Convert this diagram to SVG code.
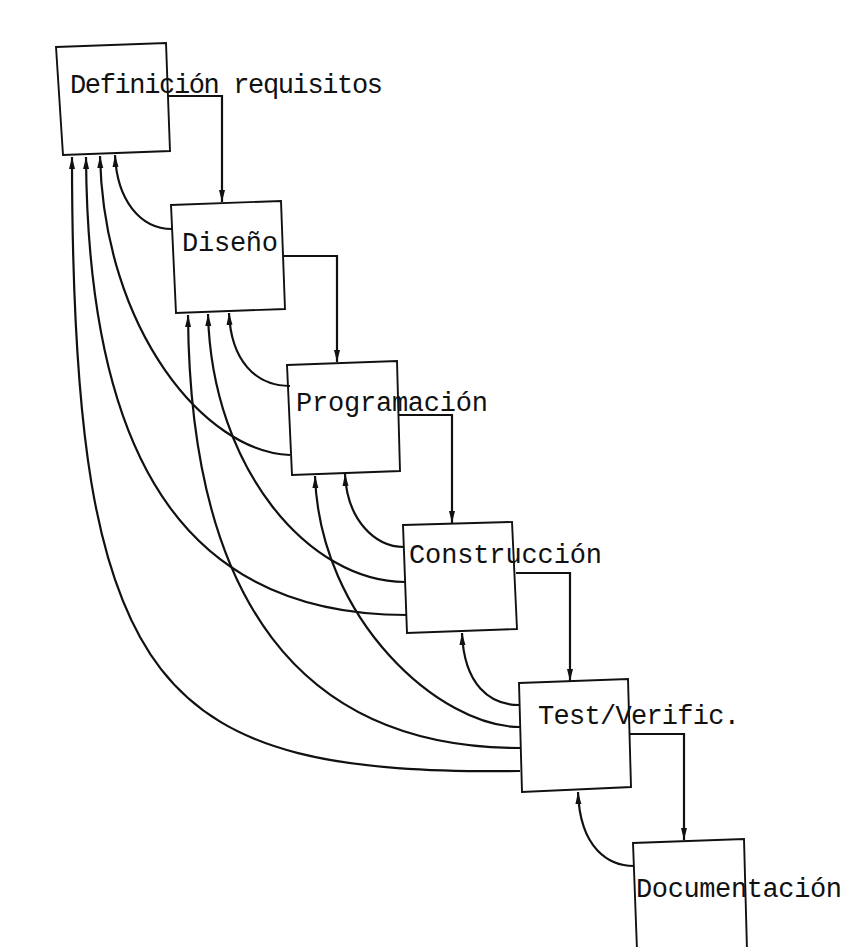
<svg xmlns="http://www.w3.org/2000/svg" width="848" height="947" viewBox="0 0 848 947">
<defs>
<style>
.box{fill:none;stroke:#111;stroke-width:1.9;stroke-linejoin:miter}
.lbl{font-family:"Liberation Mono","DejaVu Sans Mono",monospace;font-size:27px;fill:#111}
.con{fill:none;stroke:#111;stroke-width:2.2}
</style>
<marker id="ah" viewBox="0 0 12 8" refX="12" refY="4" markerWidth="12" markerHeight="8" markerUnits="userSpaceOnUse" orient="auto">
<path d="M0,1 L12,4 L0,7 z" fill="#111"/>
</marker>
</defs>
<rect width="848" height="947" fill="#fff"/>
<g id="connectors">
<path class="con" marker-end="url(#ah)" d="M168,96 H222 V202"/>
<path class="con" marker-end="url(#ah)" d="M284,256 H337 V362"/>
<path class="con" marker-end="url(#ah)" d="M399,415 H452 V523"/>
<path class="con" marker-end="url(#ah)" d="M516,573 H570 V681"/>
<path class="con" marker-end="url(#ah)" d="M630,734 H684 V840"/>
<path class="con" marker-end="url(#ah)" d="M520,771 C160,775 72,700 72,157"/>
<path class="con" marker-end="url(#ah)" d="M407,615 C200,615 88,480 86,157"/>
<path class="con" marker-end="url(#ah)" d="M290,455 C205,452 104,330 100,156"/>
<path class="con" marker-end="url(#ah)" d="M172,229 C140,229 117,200 115,155"/>
<path class="con" marker-end="url(#ah)" d="M520,748 C300,748 190,600 188,315"/>
<path class="con" marker-end="url(#ah)" d="M405,582 C310,582 212,470 208,314"/>
<path class="con" marker-end="url(#ah)" d="M290,386 C255,386 231,360 229,313"/>
<path class="con" marker-end="url(#ah)" d="M520,727 C440,727 320,620 315,476"/>
<path class="con" marker-end="url(#ah)" d="M404,547 C375,547 347,520 345,474"/>
<path class="con" marker-end="url(#ah)" d="M519,705 C490,705 464,685 462,633"/>
<path class="con" marker-end="url(#ah)" d="M634,866 C610,866 580,850 578,792"/>
</g>
<g id="definicion">
<polygon class="box" points="56,47 166,43 170,151 63,155"/>
<text class="lbl" x="70" y="93" textLength="313" lengthAdjust="spacing">Definición requisitos</text>
</g>
<g id="diseno">
<polygon class="box" points="171,205 281,201 285,309 176,313"/>
<text class="lbl" x="182" y="251" textLength="96" lengthAdjust="spacing">Diseño</text>
</g>
<g id="programacion">
<polygon class="box" points="287,365 397,361 400,471 292,475"/>
<text class="lbl" x="296" y="411" textLength="192" lengthAdjust="spacing">Programación</text>
</g>
<g id="construccion">
<polygon class="box" points="403,525 512,522 517,629 407,633"/>
<text class="lbl" x="409" y="563" textLength="193" lengthAdjust="spacing">Construcción</text>
</g>
<g id="test">
<polygon class="box" points="519,683 628,679 631,787 522,792"/>
<text class="lbl" x="538" y="724" textLength="202" lengthAdjust="spacing">Test/Verific.</text>
</g>
<g id="documentacion">
<polyline class="box" points="637,950 633,843 744,839 747,950"/>
<text class="lbl" x="636" y="897" textLength="206" lengthAdjust="spacing">Documentación</text>
</g>
</svg>
